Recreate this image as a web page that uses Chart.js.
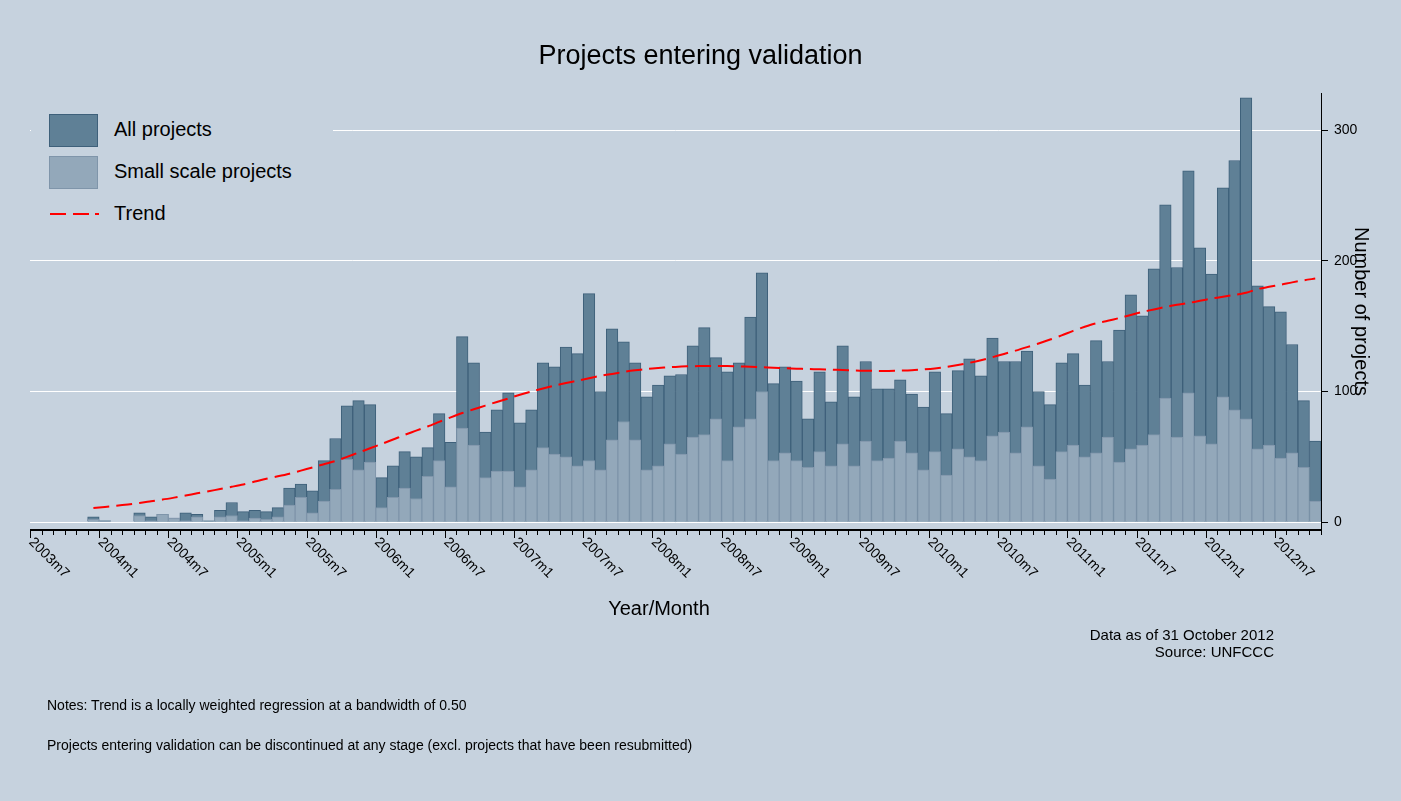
<!DOCTYPE html>
<html><head><meta charset="utf-8">
<script src="https://cdn.jsdelivr.net/npm/chart.js@4.4.1/dist/chart.umd.min.js"></script>
<style>
html,body{margin:0;padding:0;background:#c6d2de;font-family:"Liberation Sans",Arial,sans-serif;}
#wrap{position:relative;width:1401px;height:801px;}
canvas{position:absolute;left:0;top:0;}
.t{position:absolute;color:#000;white-space:nowrap;}
.sw{position:absolute;}
</style></head><body>
<div id="wrap">
<canvas id="c" width="1401" height="801"></canvas>
<div class="t" style="left:0;width:1401px;text-align:center;top:40px;font-size:27px;">Projects entering validation</div>
<div style="position:absolute;left:31px;top:100px;width:302px;height:136px;background:#c6d2de;"></div>
<div class="sw" style="left:49px;top:114px;width:47px;height:31px;background:#5f8096;border:1px solid #3e607a;"></div>
<div class="t" style="left:114px;top:118px;font-size:20px;">All projects</div>
<div class="sw" style="left:49px;top:156px;width:47px;height:31px;background:#93a8ba;border:1px solid #7f95aa;"></div>
<div class="t" style="left:114px;top:160px;font-size:20px;">Small scale projects</div>
<div class="sw" style="left:50px;top:213px;width:16px;height:2px;background:#f00;"></div>
<div class="sw" style="left:73px;top:213px;width:16px;height:2px;background:#f00;"></div>
<div class="sw" style="left:95px;top:213px;width:4px;height:2px;background:#f00;"></div>
<div class="t" style="left:114px;top:202px;font-size:20px;">Trend</div>
<div class="t" style="left:0;width:1318px;text-align:center;top:597px;font-size:20px;">Year/Month</div>
<div class="t" style="right:127px;text-align:right;top:626px;font-size:15px;line-height:17px;">Data as of 31 October 2012<br>Source: UNFCCC</div>
<div class="t" style="left:47px;top:697px;font-size:14px;">Notes: Trend is a locally weighted regression at a bandwidth of 0.50</div>
<div class="t" style="left:47px;top:737px;font-size:14px;">Projects entering validation can be discontinued at any stage (excl. projects that have been resubmitted)</div>
</div>
<script>
const tickLabels=['2003m7','2004m1','2004m7','2005m1','2005m7','2006m1','2006m7','2007m1','2007m7','2008m1','2008m7','2009m1','2009m7','2010m1','2010m7','2011m1','2011m7','2012m1','2012m7'];
const leadingEmpty=5; // 2003m7..2003m11 have no bars
const allProjects=[4,1,0,0,7,4,6,3,7,6,1,9,15,8,9,8,11,26,29,24,47,64,89,93,90,34,43,54,50,57,83,61,142,122,69,86,99,76,86,122,119,134,129,175,100,148,138,122,96,105,112,113,135,149,126,115,122,157,191,106,119,108,79,115,92,135,96,123,102,102,109,98,88,115,83,116,125,112,141,123,123,131,100,90,122,129,105,139,123,147,174,158,194,243,195,269,210,190,256,277,325,181,165,161,136,93,62];
const smallScale=[2,1,0,0,5,1,6,3,1,4,0,4,5,1,3,2,4,13,19,7,16,25,48,40,46,11,19,26,18,35,47,27,72,59,34,39,39,27,40,57,52,50,43,47,40,63,77,63,40,43,60,52,65,67,79,47,73,79,100,47,53,47,42,54,43,60,43,62,47,49,62,53,40,54,36,56,50,47,66,69,53,73,43,33,54,59,50,53,65,46,56,59,67,95,65,99,66,60,96,86,79,56,59,49,53,42,16];
const trend=[10.7,11.6,12.5,13.5,14.6,15.9,17.2,18.7,20.3,22,23.6,25.3,27,28.8,31,33.2,35,37,39.4,41.8,44.3,46.8,49.9,53.2,56.5,59.8,63.2,66.8,70,73.2,76.7,80.2,83.5,86.4,89.2,92,94.7,97.5,100,102.3,104.5,106.5,108.3,110.2,112,113.5,115,116.2,117.2,118,118.6,119.1,119.4,119.6,119.6,119.5,119.3,119,118.6,118.2,117.8,117.5,117.2,117,116.8,116.4,116.1,115.9,115.8,115.8,116,116.3,116.9,117.7,118.8,120.3,122,124,126.3,128.8,131.3,134,136.8,139.8,143,146.5,149.6,152.3,154.2,156.3,158.6,161,162.9,164.8,166.4,167.8,169.5,171.2,172.6,174,175.6,178.5,180.2,181.8,183.6,185.2,186.5];
const yTicks=[0,100,200,300];

const n=leadingEmpty+allProjects.length;
const cats=[];for(let i=0;i<n;i++){const m=6+i;cats.push((2003+Math.floor(m/12))+'m'+(m%12+1));}
const pad=a=>Array(leadingEmpty).fill(null).concat(a);

const xAxisPlugin={id:'xaxis',afterDraw(ch){
  const c=ch.ctx,a=ch.chartArea,x=ch.scales.x;
  const w=x.getPixelForValue(1)-x.getPixelForValue(0);
  const y0=a.bottom;
  c.save();c.strokeStyle='#000';c.lineWidth=2;
  c.beginPath();c.moveTo(a.left,y0);c.lineTo(a.right,y0);c.stroke();
  c.lineWidth=1;
  for(let i=0;i<=n;i++){const px=Math.round(x.getPixelForValue(i)-w/2)+0.5;const major=(i%6===0);
    c.beginPath();c.moveTo(px,y0);c.lineTo(px,y0+(major?8:5));c.stroke();}
  c.fillStyle='#000';c.font='14px "Liberation Sans", Arial, sans-serif';c.textBaseline='middle';c.textAlign='left';
  tickLabels.forEach((t,k)=>{const px=x.getPixelForValue(k*6)-w/2;
    c.save();c.translate(px+1,y0+10);c.rotate(Math.PI/4);c.fillText(t,0,0);c.restore();});
  c.restore();
}};

new Chart(document.getElementById('c'),{
  data:{labels:cats,datasets:[
    {type:'bar',label:'All projects',data:pad(allProjects),backgroundColor:'#5f8096',borderColor:'#3e607a',borderWidth:1,grouped:false,order:3,categoryPercentage:1,barPercentage:1},
    {type:'bar',label:'Small scale projects',data:pad(smallScale),backgroundColor:'#93a8ba',borderColor:'#7f95aa',borderWidth:1,grouped:false,order:2,categoryPercentage:1,barPercentage:1},
    {type:'line',label:'Trend',data:pad(trend),borderColor:'#ff0000',borderWidth:2,borderDash:[16,7],pointRadius:0,fill:false,order:1,tension:0.3}
  ]},
  options:{responsive:false,animation:false,
    layout:{padding:{left:30,top:93,bottom:271,right:28}},
    plugins:{legend:{display:false},tooltip:{enabled:false},title:{display:false}},
    scales:{
      x:{type:'category',display:false,offset:true},
      y:{position:'right',min:-6.1,max:328.7,
        afterBuildTicks(s){s.ticks=yTicks.map(v=>({value:v}));},
        afterFit(s){s.width=52;},
        grid:{color:'#ffffff',lineWidth:1,tickColor:'#000',tickLength:7,drawTicks:true},
        border:{display:true,color:'#000',width:1},
        ticks:{color:'#000',font:{size:14,family:'"Liberation Sans", Arial, sans-serif'},padding:6},
        title:{display:true,text:'Number of projects',color:'#000',font:{size:20,family:'"Liberation Sans", Arial, sans-serif'},padding:{top:0,bottom:0}}
      }
    }
  },
  plugins:[xAxisPlugin]
});
</script>
</body></html>
